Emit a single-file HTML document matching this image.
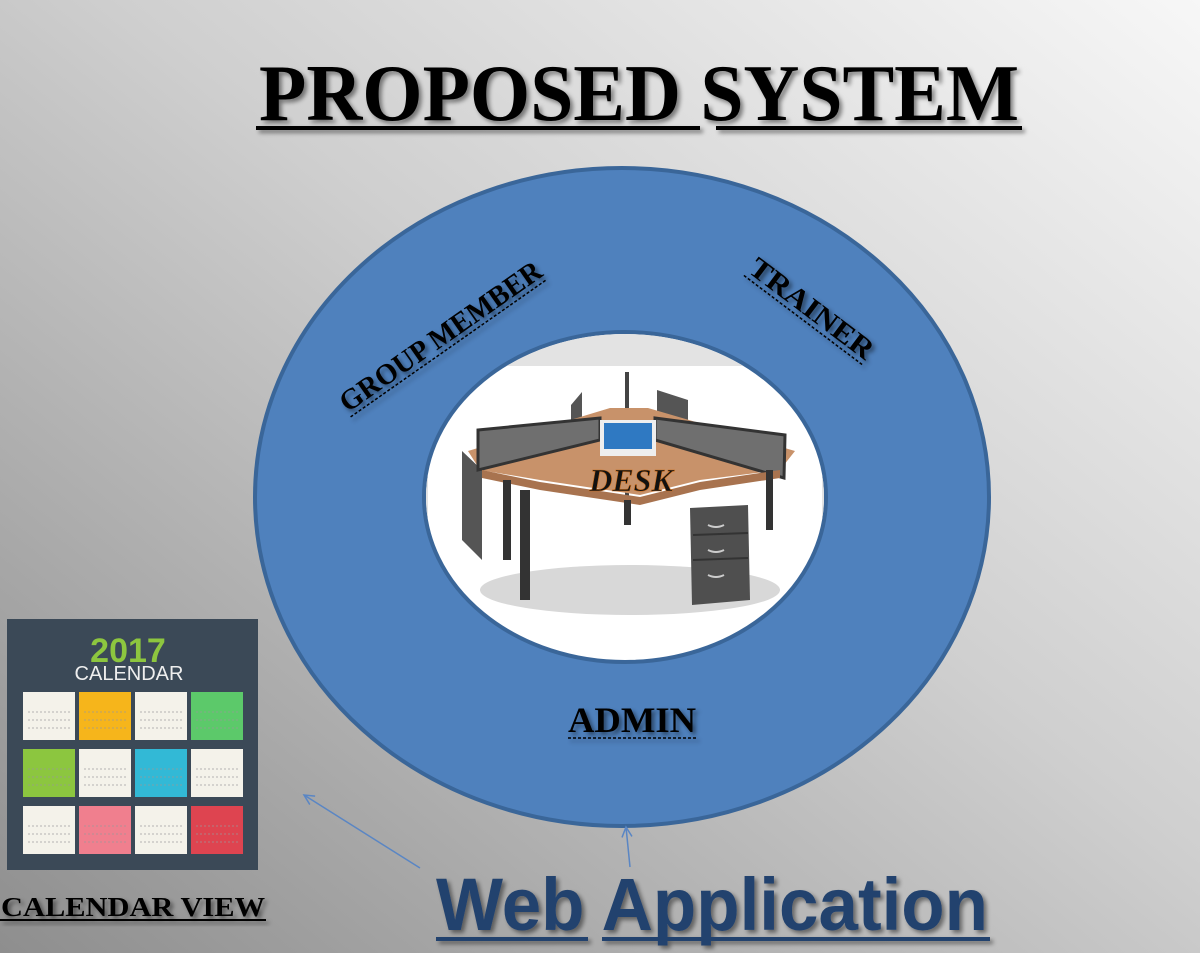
<!DOCTYPE html>
<html><head><meta charset="utf-8"><style>
html,body{margin:0;padding:0;width:1200px;height:953px;overflow:hidden}
</style></head><body>
<svg width="1200" height="953" xmlns="http://www.w3.org/2000/svg">
<defs>
<linearGradient id="bg" x1="1" y1="0" x2="0" y2="1">
<stop offset="0" stop-color="#f7f7f7"/><stop offset="0.45" stop-color="#cfcfcf"/><stop offset="1" stop-color="#8e8e8e"/>
</linearGradient>
<filter id="sh" x="-5%" y="-5%" width="110%" height="120%"><feDropShadow dx="3" dy="3" stdDeviation="2" flood-color="#000" flood-opacity="0.45"/></filter>
<marker id="ar" markerWidth="14" markerHeight="14" refX="11" refY="6" orient="auto" markerUnits="userSpaceOnUse"><path d="M1,1 L11,6 L1,11" fill="none" stroke="#5a86c4" stroke-width="1.5"/></marker>
</defs>
<rect width="1200" height="953" fill="url(#bg)"/>
<!-- title -->
<g filter="url(#sh)">
<text x="639" y="120" font-family="Liberation Serif" font-weight="bold" font-size="80" text-anchor="middle" textLength="760" lengthAdjust="spacingAndGlyphs" fill="#000">PROPOSED SYSTEM</text>
<rect x="256" y="126" width="444" height="4" fill="#000"/>
<rect x="716" y="126" width="306" height="4" fill="#000"/>
</g>
<!-- ring -->
<ellipse cx="622" cy="497" rx="367" ry="329" fill="#4f81bd" stroke="#3a6699" stroke-width="4"/>
<ellipse cx="625" cy="497" rx="201" ry="165" fill="#ffffff" stroke="#3a6699" stroke-width="4"/>
<clipPath id="ic"><ellipse cx="625" cy="497" rx="199" ry="163"/></clipPath>
<g clip-path="url(#ic)">
<rect x="420" y="330" width="410" height="36" fill="#e3e3e3"/>
<rect x="420" y="366" width="8" height="300" fill="#e3e3e3"/>
<rect x="822" y="366" width="8" height="300" fill="#e3e3e3"/>
<ellipse cx="630" cy="590" rx="150" ry="25" fill="#d8d8d8"/>
<polygon points="571,405 582,392 582,420 571,425" fill="#555"/>
<polygon points="657,390 688,400 688,420 657,415" fill="#555"/>
<rect x="625" y="372" width="4" height="150" fill="#444"/>
<polygon points="468,451 610,408 648,408 795,451 780,470 700,480 640,495 540,480 480,470" fill="#c8926a"/>
<polygon points="462,451 482,470 482,560 462,540" fill="#555"/>
<polygon points="478,430 600,418 600,440 478,470" fill="#6f6f6f" stroke="#333" stroke-width="3"/>
<polygon points="655,418 785,435 784,478 655,440" fill="#6f6f6f" stroke="#333" stroke-width="3"/>
<rect x="600" y="420" width="56" height="36" fill="#eee"/>
<rect x="604" y="423" width="48" height="26" fill="#2f79c2"/>
<polygon points="482,470 540,482 640,497 700,482 780,470 780,478 700,490 640,505 540,490 482,478" fill="#a8734f"/>
<rect x="503" y="480" width="8" height="80" fill="#333"/>
<rect x="520" y="490" width="10" height="110" fill="#333"/>
<rect x="624" y="500" width="7" height="25" fill="#333"/>
<polygon points="690,508 748,505 750,600 692,605" fill="#4f4f4f"/>
<line x1="693" y1="535" x2="748" y2="533" stroke="#333" stroke-width="2"/>
<line x1="693" y1="560" x2="748" y2="558" stroke="#333" stroke-width="2"/>
<path d="M708,525 q8,4 16,0 M708,550 q8,4 16,0 M708,575 q8,4 16,0" stroke="#ccc" stroke-width="2" fill="none"/>
<rect x="766" y="470" width="7" height="60" fill="#333"/>
</g>
<text x="631" y="491" font-family="Liberation Serif" font-weight="bold" font-style="italic" font-size="32" text-anchor="middle" fill="#111" stroke="#c86a1a" stroke-width="0.6">DESK</text>
<!-- ring labels -->
<g filter="url(#sh)" font-family="Liberation Serif" font-weight="bold" fill="#000">
<g transform="translate(446,344) rotate(-35)">
<text x="0" y="0" font-size="29" text-anchor="middle" textLength="240" lengthAdjust="spacingAndGlyphs">GROUP MEMBER</text>
<line x1="-120" y1="5" x2="120" y2="5" stroke="#000" stroke-width="1.5" stroke-dasharray="3,2"/>
</g>
<g transform="translate(806,316) rotate(37)">
<text x="0" y="0" font-size="29" text-anchor="middle" textLength="148" lengthAdjust="spacingAndGlyphs">TRAINER</text>
<line x1="-74" y1="5" x2="74" y2="5" stroke="#000" stroke-width="1.5" stroke-dasharray="3,2"/>
</g>
<text x="632" y="732" font-size="36" text-anchor="middle" textLength="128" lengthAdjust="spacingAndGlyphs">ADMIN</text>
<line x1="568" y1="738" x2="697" y2="738" stroke="#000" stroke-width="1.5" stroke-dasharray="3,2"/>
</g>
<!-- calendar -->
<rect x="7" y="619" width="251" height="251" fill="#3b4957"/>
<text x="128" y="662" font-family="Liberation Sans" font-weight="bold" font-size="34" text-anchor="middle" fill="#8dc63f">2017</text>
<text x="129" y="680" font-family="Liberation Sans" font-size="20" text-anchor="middle" fill="#eee">CALENDAR</text>
<g>
<rect x="23" y="692" width="52" height="48" fill="#f4f2ea"/>
<rect x="79" y="692" width="52" height="48" fill="#f6b51b"/>
<rect x="135" y="692" width="52" height="48" fill="#f4f2ea"/>
<rect x="191" y="692" width="52" height="48" fill="#5cc96a"/>
<rect x="23" y="749" width="52" height="48" fill="#8cc63f"/>
<rect x="79" y="749" width="52" height="48" fill="#f4f2ea"/>
<rect x="135" y="749" width="52" height="48" fill="#32b9d6"/>
<rect x="191" y="749" width="52" height="48" fill="#f4f2ea"/>
<rect x="23" y="806" width="52" height="48" fill="#f4f2ea"/>
<rect x="79" y="806" width="52" height="48" fill="#f07f8e"/>
<rect x="135" y="806" width="52" height="48" fill="#f4f2ea"/>
<rect x="191" y="806" width="52" height="48" fill="#de4450"/>
</g>
<g stroke="#999" stroke-width="1" stroke-dasharray="2,2" opacity="0.7">
<path d="M28,712h42M28,720h42M28,728h42M84,712h42M84,720h42M84,728h42M140,712h42M140,720h42M140,728h42M196,712h42M196,720h42M196,728h42"/>
<path d="M28,769h42M28,777h42M28,785h42M84,769h42M84,777h42M84,785h42M140,769h42M140,777h42M140,785h42M196,769h42M196,777h42M196,785h42"/>
<path d="M28,826h42M28,834h42M28,842h42M84,826h42M84,834h42M84,842h42M140,826h42M140,834h42M140,842h42M196,826h42M196,834h42M196,842h42"/>
</g>
<g filter="url(#sh)">
<text x="133" y="916" font-family="Liberation Serif" font-weight="bold" font-size="27" text-anchor="middle" textLength="264" lengthAdjust="spacingAndGlyphs" fill="#000">CALENDAR VIEW</text>
<rect x="0" y="919" width="266" height="2" fill="#000"/>
</g>
<!-- arrows -->
<line x1="420" y1="868" x2="304" y2="795" stroke="#5a86c4" stroke-width="1.5" marker-end="url(#ar)"/>
<line x1="630" y1="867" x2="626" y2="827" stroke="#5a86c4" stroke-width="1.5" marker-end="url(#ar)"/>
<!-- web app -->
<g filter="url(#sh)">
<text x="436" y="930" font-family="Liberation Sans" font-weight="bold" font-size="74" textLength="552" lengthAdjust="spacingAndGlyphs" fill="#24426e">Web Application</text>
<rect x="436" y="937" width="152" height="4" fill="#24426e"/>
<rect x="602" y="937" width="388" height="4" fill="#24426e"/>
</g>
</svg>
</body></html>
